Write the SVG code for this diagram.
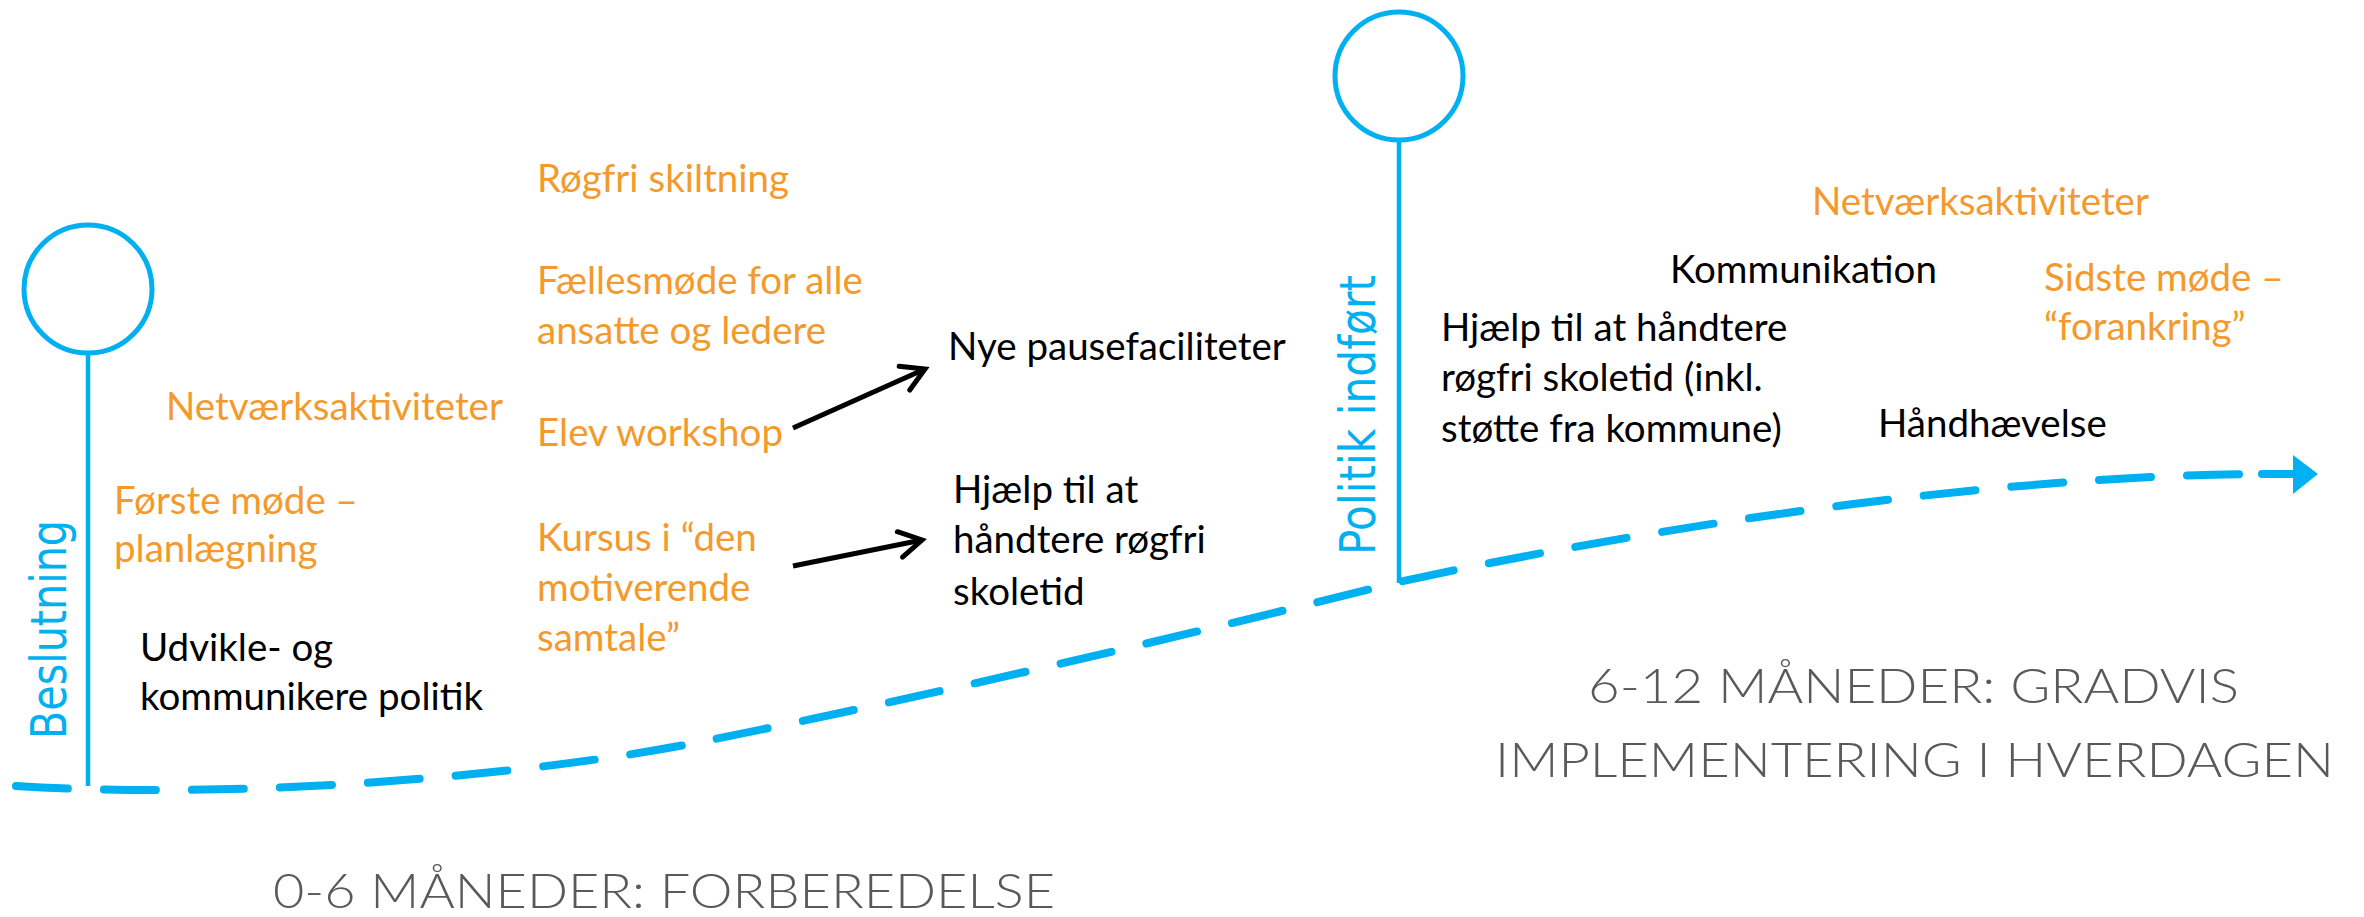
<svg xmlns="http://www.w3.org/2000/svg" width="2364" height="917" viewBox="0 0 2364 917">
<style>
.t{font-family:Lato,"Liberation Sans",sans-serif;font-size:38.5px}
.o{fill:#F49A2C}
.k{fill:#000}
.ring{fill:none;stroke:#00B0F0;stroke-width:5}
.stem{stroke:#00B0F0;stroke-width:4.5;fill:none}
.rot{font-family:"DejaVu Sans","Noto Sans",sans-serif;font-size:49px;fill:#00B0F0}
.ph{font-family:Lato,"Liberation Sans",sans-serif;font-weight:300;font-size:48px;fill:#595959}
.timeline{fill:none;stroke:#00B0F0;stroke-width:8;stroke-linecap:round;stroke-dasharray:52 36}
.arrow{fill:none;stroke:#000;stroke-width:5;marker-end:url(#ah)}
</style>
<defs>
<marker id="ah" markerUnits="userSpaceOnUse" viewBox="-30 -20 40 40" markerWidth="40" markerHeight="40" refX="0" refY="0" orient="auto" overflow="visible">
<path d="M-22.5,-13 L0,0 L-22.5,13" fill="none" stroke="#000" stroke-width="5" stroke-linecap="round" stroke-linejoin="miter"/>
</marker>
</defs>
<rect width="2364" height="917" fill="#fff"/>

<g id="connectors">
<path id="timeline" class="timeline" d="M16,786 C240,800 530,776 700,742 C930,696 1170,639 1399,582 C1650,527 2000,474 2268,474"/>
<g id="timeline-head">
<line x1="2262" y1="474" x2="2296" y2="474" stroke="#00B0F0" stroke-width="8" stroke-linecap="round"/>
<polygon points="2293,455 2318,474 2293,494" fill="#00B0F0"/>
</g>
<line id="arrow-workshop" class="arrow" x1="793" y1="428" x2="925" y2="369"/>
<line id="arrow-kursus" class="arrow" x1="793" y1="566" x2="922" y2="540"/>
</g>

<g id="milestone-beslutning">
<circle class="ring" cx="88" cy="289" r="64"/>
<line class="stem" x1="88" y1="353" x2="88" y2="786"/>
<text class="rot" transform="translate(66,739) rotate(-90)" textLength="219" lengthAdjust="spacingAndGlyphs">Beslutning</text>
</g>

<g id="milestone-politik">
<circle class="ring" cx="1399" cy="76" r="64"/>
<line class="stem" x1="1399" y1="140" x2="1399" y2="583"/>
<text class="rot" transform="translate(1375,555) rotate(-90)" textLength="280" lengthAdjust="spacingAndGlyphs">Politik indført</text>
</g>

<g id="netvaerk-1"><text class="t o" x="166" y="420">Netværksaktiviteter</text></g>
<g id="forste-mode"><text class="t o" x="114" y="514">Første møde –</text><text class="t o" x="114" y="562">planlægning</text></g>
<g id="udvikle"><text class="t k" x="140" y="661">Udvikle- og</text><text class="t k" x="140" y="710">kommunikere politik</text></g>

<g id="rogfri-skiltning"><text class="t o" x="537" y="192">Røgfri skiltning</text></g>
<g id="faellesmode"><text class="t o" x="537" y="294">Fællesmøde for alle</text><text class="t o" x="537" y="344">ansatte og ledere</text></g>
<g id="elev-workshop"><text class="t o" x="537" y="446">Elev workshop</text></g>
<g id="kursus"><text class="t o" x="537" y="551">Kursus i “den</text><text class="t o" x="537" y="601">motiverende</text><text class="t o" x="537" y="651">samtale”</text></g>

<g id="nye-pause"><text class="t k" x="948" y="360">Nye pausefaciliteter</text></g>
<g id="hjaelp-1"><text class="t k" x="953" y="503">Hjælp til at</text><text class="t k" x="953" y="553">håndtere røgfri</text><text class="t k" x="953" y="605">skoletid</text></g>

<g id="hjaelp-2"><text class="t k" x="1441" y="341">Hjælp til at håndtere</text><text class="t k" x="1441" y="391">røgfri skoletid (inkl.</text><text class="t k" x="1441" y="442">støtte fra kommune)</text></g>
<g id="kommunikation"><text class="t k" x="1670" y="283">Kommunikation</text></g>
<g id="netvaerk-2"><text class="t o" x="1812" y="215">Netværksaktiviteter</text></g>
<g id="sidste-mode"><text class="t o" x="2044" y="291">Sidste møde –</text><text class="t o" x="2044" y="340">“forankring”</text></g>
<g id="handhaevelse"><text class="t k" x="1878" y="437">Håndhævelse</text></g>

<g id="phase-1"><text class="ph" x="273" y="908" textLength="782" lengthAdjust="spacingAndGlyphs">0-6 MÅNEDER: FORBEREDELSE</text></g>
<g id="phase-2"><text class="ph" x="1588" y="703" textLength="651" lengthAdjust="spacingAndGlyphs">6-12 MÅNEDER: GRADVIS</text><text class="ph" x="1495" y="777" textLength="839" lengthAdjust="spacingAndGlyphs">IMPLEMENTERING I HVERDAGEN</text></g>
</svg>
